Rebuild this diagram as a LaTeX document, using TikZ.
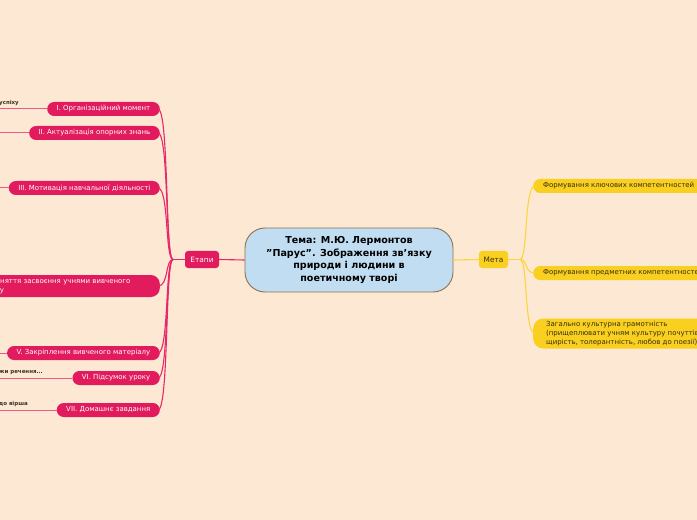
\documentclass[tikz,border=0pt]{standalone}
\usepackage{fontspec}
\usetikzlibrary{calc}
\setmainfont{DejaVu Sans}
\definecolor{bgc}{RGB}{253,233,211}
\definecolor{crim}{RGB}{226,26,94}
\definecolor{crimline}{RGB}{232,40,105}
\definecolor{leafline}{RGB}{236,90,135}
\definecolor{yel}{RGB}{249,208,32}
\definecolor{yelline}{RGB}{250,214,60}
\definecolor{ctrfill}{RGB}{192,221,241}
\definecolor{ctrdraw}{RGB}{140,112,84}
\definecolor{darktxt}{RGB}{55,45,20}
\definecolor{leaftxt}{RGB}{60,50,40}
\begin{document}
\begin{tikzpicture}[x=1bp,y=-1bp,
  ctr/.style={draw=ctrdraw,line width=0.9bp,fill=ctrfill,rounded corners=20bp,
    minimum width=208bp,minimum height=64bp,inner sep=0pt,align=center,
    font=\fontsize{9.6}{12.6}\selectfont\bfseries,text=black},
  redmain/.style={fill=crim,rounded corners=3bp,minimum width=34bp,minimum height=17bp,
    inner sep=0pt,text=white,font=\fontsize{7.4}{9}\selectfont},
  yelmain/.style={fill=yel,rounded corners=3bp,minimum width=29bp,minimum height=17bp,
    inner sep=0pt,text=darktxt,font=\fontsize{7.4}{9}\selectfont},
  redpill/.style={fill=crim,rounded corners=7bp,minimum height=14bp,inner ysep=0pt,
    inner xsep=9.5bp,text=white,font=\fontsize{7}{8.4}\selectfont,anchor=east},
  yelpill/.style={fill=yel,rounded corners=7bp,minimum height=14bp,inner ysep=0pt,
    inner xsep=10bp,text=darktxt,font=\fontsize{7}{8.4}\selectfont,anchor=west},
  redline/.style={draw=crimline,line width=1.1bp},
  yline/.style={draw=yelline,line width=1.1bp},
  lline/.style={draw=leafline,line width=1bp},
  leaf/.style={inner sep=0pt,anchor=base east,text=leaftxt,font=\fontsize{5.5}{6.5}\selectfont\bfseries}
]
\useasboundingbox (0,0) rectangle (697,520);
\fill[bgc] (0,0) rectangle (697,520);

% central
\node[ctr] (c) at (349,260) {Тема: М.Ю. Лермонтов\\\symbol{"22}Парус\symbol{"22}. Зображення зв\symbol{"27}язку\\природи і людини в\\поетичному творі};
\node[redmain] (et) at (202,259.5) {Етапи};
\node[yelmain] (me) at (493.5,259.5) {Мета};

\draw[redline] (c.west) -- (et.east);
\draw[yline] (c.east) -- (me.west);

% left branches
\node[redpill] (n1) at (160,109) {I. Організаційний момент};
\node[redpill] (n2) at (160,133) {II. Актуалізація опорних знань};
\node[redpill] (n3) at (160,188) {III. Мотивація навчальної діяльності};
\node[fill=crim,rounded corners=9bp,minimum height=22bp,inner ysep=2bp,inner xsep=9bp,
  text=white,font=\fontsize{7}{8.6}\selectfont,anchor=east,align=left,text width=184bp]
  (n4) at (160,286) {IV. Сприйняття засвоєння учнями вивченого\\матеріалу};
\node[redpill] (n5) at (160,353) {V. Закріплення вивченого матеріалу};
\node[redpill] (n6) at (160,378) {VI. Підсумок уроку};
\node[redpill] (n7) at (160,410) {VII. Домашнє завдання};

\coordinate (jl) at (173,259.5);
\draw[redline] (et.west) -- (jl);
\foreach \n in {n1,n2,n3,n4,n5,n6,n7}{
  \draw[redline] (jl) .. controls (165,259.5) and ($(\n.east)+(9,0)$) .. ($(\n.east)+(-2,0)$);
}

% leaves on the left
\coordinate (l1) at (-5,109);
\coordinate (l2) at (-5,133);
\coordinate (l3) at (-5,188);
\coordinate (l5) at (-5,353);
\coordinate (l6) at (-5,378);
\coordinate (l7) at (-5,410);
\draw[lline] (n1.west) -- (l1);
\draw[lline] (n2.west) -- (l2);
\draw[lline] (n3.west) -- (l3);
\draw[lline] (n5.west) -- (l5);
\draw[lline] (n6.west) -- (l6);
\draw[lline] (n7.west) -- (l7);
\node[leaf] (t1) at (19,104.5) {Створення ситуації успіху};
\node[leaf] (t6) at (43,373.5) {Продовжи речення...};
\node[leaf] (t7) at (28,405.5) {Ілюстрація до вірша};

% right branches
\node[yelpill] (m1) at (533,186) {Формування ключових компетентностей};
\node[yelpill] (m2) at (533,273) {Формування предметних компетентностей};
\node[fill=yel,rounded corners=10bp,minimum height=30bp,inner ysep=2bp,inner xsep=13bp,
  text=darktxt,font=\fontsize{7}{8.8}\selectfont,anchor=west,align=left]
  (m3) at (533,333.5) {Загально культурна грамотність\\(прищеплювати учням культуру почуттів,\\щирість, толерантність, любов до поезії)};

\coordinate (jr) at (520,259.5);
\draw[yline] (me.east) -- (jr);
\foreach \n in {m1,m2,m3}{
  \draw[yline] (jr) .. controls (528,259.5) and ($(\n.west)+(-9,0)$) .. ($(\n.west)+(2,0)$);
}
\end{tikzpicture}
\end{document}
